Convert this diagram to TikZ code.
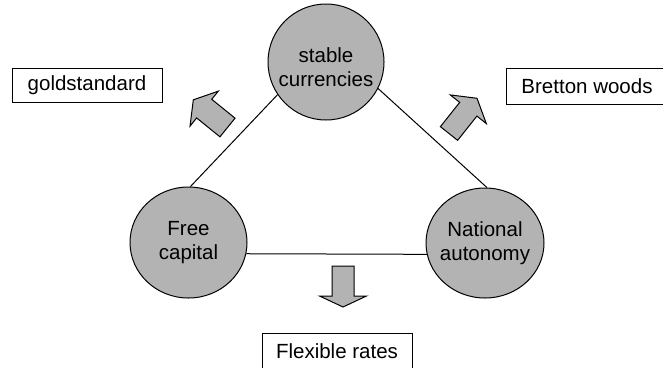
\documentclass[tikz,border=0pt]{standalone}
\usepackage{fontspec}
\setmainfont{Liberation Sans}
\usetikzlibrary{shapes.geometric}
\definecolor{circfill}{RGB}{179,179,179}
\tikzset{
  circ/.style={ellipse, draw=black, line width=1pt, fill=circfill, inner sep=0pt},
  lbl/.style={align=center, inner sep=0pt, font=\fontsize{20.5}{23.5}\selectfont},
  outbox/.style={draw=black, line width=0.9pt, fill=white, inner sep=0pt, font=\fontsize{20.5}{23.5}\selectfont},
  conn/.style={draw=black, line width=1pt},
  barrow/.style={draw=black, line width=1pt, fill=circfill, line join=miter}
}
\newcommand\blkarrow[7]{%
  \draw[barrow, shift={(#1,#2)}, rotate=#3]
    (0,{-#6/2}) -- (#4,{-#6/2}) -- (#4,{-#7/2}) -- ({#4+#5},0) --
    (#4,{#7/2}) -- (#4,{#6/2}) -- (0,{#6/2}) -- cycle;}
\begin{document}
\begin{tikzpicture}[x=1pt,y=-1pt]
\useasboundingbox (0,0) rectangle (663,367);
\clip (0,0) rectangle (663,367);
% circles
\node[circ, minimum width=116pt, minimum height=116pt] (sc) at (326,62) {};
\node[lbl] (sct) at (326,67) {stable\\currencies};
\node[circ, minimum width=117pt, minimum height=111pt] (fc) at (188.5,242.5) {};
\node[lbl] (fct) at (188.5,242.5) {Free\\capital};
\node[circ, minimum width=118pt, minimum height=110pt] (na) at (485,243) {};
\node[lbl] (nat) at (485,243) {National\\autonomy};
% connectors
\draw[conn] (sc.214) -- (fc.88);
\draw[conn] (sc.333) -- (na.88);
\draw[conn] (fc.349) -- (na.191);
% boxes
\node[outbox, minimum width=150pt, minimum height=34pt] (gs) at (87,85) {goldstandard};
\node[outbox, minimum width=162pt, minimum height=36pt] (bw) at (587,86) {Bretton woods};
\node[outbox, minimum width=150pt, minimum height=36pt] (fr) at (337,351) {Flexible rates};
% block arrows
\blkarrow{227.5}{127.5}{141}{30}{14}{24}{45}
\blkarrow{449}{133.5}{51.5}{31}{14}{22}{46}
\blkarrow{343}{266}{-90}{30}{11}{22}{47}
\end{tikzpicture}
\end{document}
